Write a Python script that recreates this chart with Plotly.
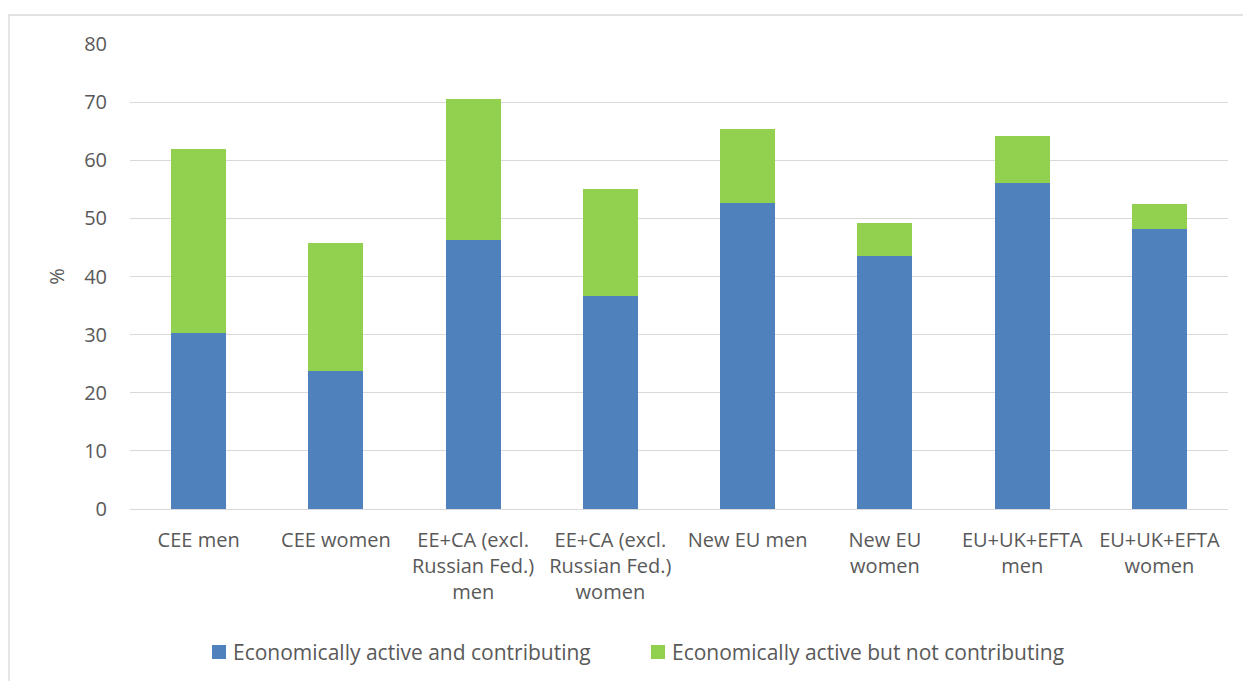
import plotly.graph_objects as go

categories = [
    "CEE men",
    "CEE women",
    "EE+CA (excl.<br>Russian Fed.)<br>men",
    "EE+CA (excl.<br>Russian Fed.)<br>women",
    "New EU men",
    "New EU<br>women",
    "EU+UK+EFTA<br>men",
    "EU+UK+EFTA<br>women",
]
contributing = [30.2, 23.8, 46.2, 36.6, 52.7, 43.6, 56.1, 48.2]
total_active = [61.9, 45.8, 70.6, 55.0, 65.4, 49.2, 64.1, 52.4]
not_contributing = [round(t - c, 1) for t, c in zip(total_active, contributing)]

series_names = ["Economically active and contributing",
                "Economically active but not contributing"]
series_colors = ["#4F81BD", "#92D050"]

y_ticks = [0, 10, 20, 30, 40, 50, 60, 70, 80]

FONT = "Open Sans"
TEXT = "#595959"
GRID = "#D9D9D9"

fig = go.Figure()
for vals, name, color in zip([contributing, not_contributing], series_names, series_colors):
    fig.add_trace(go.Bar(
        x=categories, y=vals, name=name,
        marker=dict(color=color, line=dict(width=0)),
        showlegend=False,
    ))

# Legend drawn below the plot: coloured square followed by its label
legend_items = [(0.0747, series_names[0], series_colors[0]),
                (0.4745, series_names[1], series_colors[1])]
shapes = [dict(
    type="rect", xref="paper", yref="paper",
    x0=-0.1102, x1=1.2, y0=-0.6, y1=1.0624,
    line=dict(color=GRID, width=1.3), fillcolor="rgba(0,0,0,0)", layer="below",
)]
annotations = []
for x0, name, color in legend_items:
    shapes.append(dict(
        type="rect", xref="paper", yref="paper",
        x0=x0, x1=x0 + 0.01275, y0=-0.3226, y1=-0.2925,
        line=dict(width=0), fillcolor=color,
    ))
    annotations.append(dict(
        text=name, xref="paper", yref="paper", x=x0 + 0.0172, y=-0.3075,
        xanchor="left", yanchor="middle", showarrow=False,
        font=dict(family=FONT, size=21, color=TEXT),
    ))

fig.update_layout(
    barmode="stack",
    bargap=0.6,
    width=1243, height=681,
    margin=dict(l=130, r=15, t=44, b=172),
    paper_bgcolor="white", plot_bgcolor="white",
    font=dict(family=FONT, size=20, color=TEXT),
    showlegend=False,
    xaxis=dict(
        showgrid=False, showline=False, ticks="", ticklabelstandoff=17,
        tickfont=dict(size=20, color=TEXT),
    ),
    yaxis=dict(
        range=[0, 80], tickvals=y_ticks, showgrid=True, gridcolor=GRID, gridwidth=1.3,
        zeroline=True, zerolinecolor=GRID, zerolinewidth=1.3,
        ticks="", ticklabelstandoff=22, tickfont=dict(size=20, color=TEXT),
        title=dict(text="%", font=dict(size=20, color=TEXT), standoff=14),
    ),
    shapes=shapes,
    annotations=annotations,
)

fig.write_html("out.html")
